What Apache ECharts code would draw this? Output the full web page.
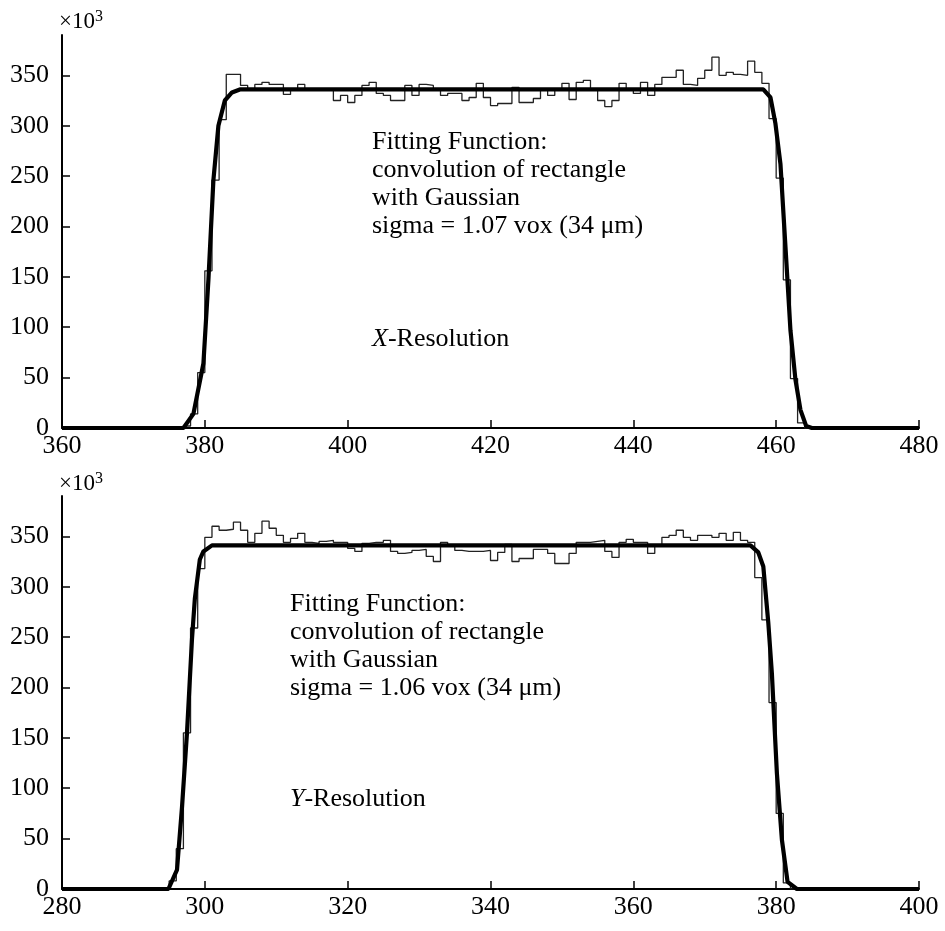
<!DOCTYPE html>
<html><head><meta charset="utf-8">
<script src="https://cdn.jsdelivr.net/npm/echarts@6.0.0/dist/echarts.min.js"></script>
<style>html,body{margin:0;padding:0;background:#fff}#c{width:945px;height:931px}</style>
</head><body><div id="c"></div>
<script>
// ---------- data (values in units of 10^3) ----------
const yTicks = [0, 50, 100, 150, 200, 250, 300, 350];
const topXRange = [360, 480];
const bottomXRange = [280, 400];

// X-resolution histogram: counts per 1-voxel bin, first bin left edge = topBinStart
const topBinStart = 376;
const topCounts = [
  0, 2, 14, 55, 156, 246, 306, 351, 351, 340,
  335, 341, 343, 341, 341, 331, 336, 341, 336, 336,
  336, 336, 325, 330, 323, 330, 340, 343, 332, 330,
  325, 325, 340, 330, 341, 340, 336, 330, 332, 332,
  325, 328, 342, 328, 320, 322, 322, 338, 323, 323,
  327, 336, 330, 336, 342, 326, 343, 345, 336, 325,
  319, 325, 342, 335, 332, 343, 330, 341, 348, 348,
  355, 341, 340, 347, 355, 368, 350, 353, 351, 350,
  364, 353, 342, 307, 248, 147, 49, 5, 0
];
// X-resolution fit curve (rectangle convolved with Gaussian)
const topFitX = [360, 377, 378.4, 379.8, 380.5, 381.2, 381.9, 382.8, 383.8, 384.9, 458.2, 459.2, 459.9, 460.6, 461.3, 462.0, 462.7, 463.4, 464.2, 465, 480];
const topFitY = [0, 0, 14, 64, 147, 246, 300, 325, 333, 336, 336, 328, 302, 262, 180, 97, 48, 18, 2, 0, 0];

// Y-resolution histogram
const bottomBinStart = 294;
const bottomCounts = [
  0, 8, 40, 155, 259, 318, 349, 360, 356, 357,
  364, 356, 344, 353, 365, 358, 351, 344, 348, 353,
  344, 343, 345, 346, 344, 344, 338, 335, 343, 344,
  344, 346, 335, 333, 334, 336, 337, 330, 325, 344,
  340, 336, 335, 335, 335, 336, 326, 334, 342, 325,
  328, 328, 337, 337, 333, 323, 323, 333, 344, 344,
  345, 346, 335, 329, 344, 347, 344, 344, 333, 340,
  349, 351, 356, 349, 346, 351, 351, 349, 353, 346,
  354, 346, 344, 309, 267, 185, 75, 6, 0
];
const bottomFitX = [280, 294.9, 296.1, 296.8, 297.5, 298.2, 298.6, 299.3, 299.8, 301.0, 376.4, 377.5, 378.2, 378.9, 379.4, 380.1, 380.8, 381.6, 382.9, 400];
const bottomFitY = [0, 0, 19, 81, 155, 248, 288, 327, 335, 341, 341, 334, 320, 264, 214, 115, 49, 7, 0, 0];

const topText = ['Fitting Function:', 'convolution of rectangle', 'with Gaussian', 'sigma = 1.07 vox (34 \u03bcm)'];
const bottomText = ['Fitting Function:', 'convolution of rectangle', 'with Gaussian', 'sigma = 1.06 vox (34 \u03bcm)'];

// ---------- build ----------
const FONT = '"Liberation Serif", "Times New Roman", serif';
const LABEL_SIZE = 26;
const TEXT_SIZE = 26;
function hist(start, counts) {
  const d = counts.map((v, i) => [start + i, v]);
  d.push([start + counts.length, counts[counts.length - 1]]);
  return d;
}
function pairs(xs, ys) { return xs.map((x, i) => [x, ys[i]]); }

function xAxis(gi, range) {
  return {
    type: 'value', gridIndex: gi, min: range[0], max: range[1], interval: 20,
    axisLine: { show: true, onZero: false, lineStyle: { color: '#000', width: 2 } },
    axisTick: { show: true, inside: true, length: 8, lineStyle: { color: '#000', width: 1.5 } },
    axisLabel: { show: true, color: '#000', fontFamily: FONT, fontSize: LABEL_SIZE, margin: 5 },
    splitLine: { show: false }
  };
}
function yAxis(gi) {
  return {
    type: 'value', gridIndex: gi, min: 0, max: 390,
    axisLine: { show: true, lineStyle: { color: '#000', width: 2 } },
    axisTick: { show: true, inside: true, length: 8, customValues: yTicks, lineStyle: { color: '#000', width: 1.5 } },
    axisLabel: { show: true, color: '#000', fontFamily: FONT, fontSize: LABEL_SIZE, margin: 13, customValues: yTicks },
    splitLine: { show: false }
  };
}
function histSeries(i, data) {
  return { type: 'line', xAxisIndex: i, yAxisIndex: i, data, step: 'end', symbol: 'none',
    lineStyle: { color: '#222', width: 1.3 }, z: 2, animation: false };
}
function fitSeries(i, data) {
  return { type: 'line', xAxisIndex: i, yAxisIndex: i, data, symbol: 'none',
    lineStyle: { color: '#000', width: 4.2 }, z: 3, animation: false };
}
function textBlock(lines, left, top) {
  return { type: 'text', left, top, style: { text: lines.join('\n'), font: TEXT_SIZE + 'px ' + FONT, fill: '#000', lineHeight: 28 } };
}
function resText(letter, left, top) {
  return { type: 'text', left, top, style: {
    text: '{i|' + letter + '}-Resolution', font: TEXT_SIZE + 'px ' + FONT, fill: '#000',
    rich: { i: { fontStyle: 'italic', fontFamily: FONT, fontSize: TEXT_SIZE, fill: '#000' } } } };
}
function expText(left, top) {
  return { type: 'text', left, top, style: {
    text: '\u00d710{s|3}', font: '23px ' + FONT, fill: '#000',
    rich: { s: { fontSize: 16, fontFamily: FONT, verticalAlign: 'top', padding: [0, 0, 10, 0] } } } };
}

const chart = echarts.init(document.getElementById('c'), null, { renderer: 'canvas' });
chart.setOption({
  backgroundColor: '#fff',
  animation: false,
  grid: [
    { left: 62, right: 26, top: 35, height: 393, containLabel: false, outerBoundsMode: 'none' },
    { left: 62, right: 26, top: 496, height: 393, containLabel: false, outerBoundsMode: 'none' }
  ],
  xAxis: [xAxis(0, topXRange), xAxis(1, bottomXRange)],
  yAxis: [yAxis(0), yAxis(1)],
  series: [
    histSeries(0, hist(topBinStart, topCounts)),
    fitSeries(0, pairs(topFitX, topFitY)),
    histSeries(1, hist(bottomBinStart, bottomCounts)),
    fitSeries(1, pairs(bottomFitX, bottomFitY))
  ],
  graphic: [
    expText(59, 9),
    expText(59, 471),
    textBlock(topText, 372, 128),
    resText('X', 372, 326),
    textBlock(bottomText, 290, 590),
    resText('Y', 290, 786)
  ]
});
</script></body></html>
